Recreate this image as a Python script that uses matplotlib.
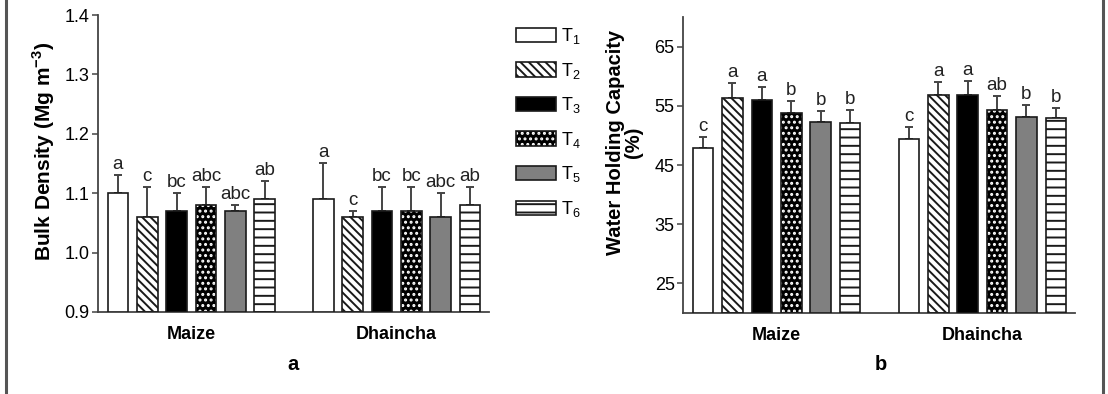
import numpy as np
import matplotlib
matplotlib.use('Agg')
import matplotlib.pyplot as plt
from matplotlib.patches import Patch
from matplotlib.lines import Line2D

plt.rcParams['font.family'] = 'Liberation Sans'
plt.rcParams['mathtext.fontset'] = 'custom'
plt.rcParams['mathtext.rm'] = 'Liberation Sans'
plt.rcParams['mathtext.bf'] = 'Liberation Sans:bold'
plt.rcParams['hatch.linewidth'] = 1.4

treatments = ['T$_1$', 'T$_2$', 'T$_3$', 'T$_4$', 'T$_5$', 'T$_6$']
crops = ['Maize', 'Dhaincha']

# bulk density (Mg m-3)
bd_maize = [1.10, 1.06, 1.07, 1.08, 1.07, 1.09]
bd_maize_err = [0.03, 0.05, 0.03, 0.03, 0.01, 0.03]
bd_dhaincha = [1.09, 1.06, 1.07, 1.07, 1.06, 1.08]
bd_dhaincha_err = [0.06, 0.01, 0.04, 0.04, 0.04, 0.03]
bd_maize_letters = ['a', 'c', 'bc', 'abc', 'abc', 'ab']
bd_dhaincha_letters = ['a', 'c', 'bc', 'bc', 'abc', 'ab']

# water holding capacity (%)
whc_maize = [47.9, 56.4, 55.9, 53.8, 52.3, 52.1]
whc_maize_err = [1.8, 2.4, 2.2, 2.0, 1.8, 2.2]
whc_dhaincha = [49.4, 56.8, 56.9, 54.3, 53.1, 52.9]
whc_dhaincha_err = [2.0, 2.2, 2.3, 2.3, 2.0, 1.7]
whc_maize_letters = ['c', 'a', 'a', 'b', 'b', 'b']
whc_dhaincha_letters = ['c', 'a', 'a', 'ab', 'b', 'b']

EDGE = '#1a1a1a'
AXC = '#444444'
# face, hatch, hatch colour for T1..T6
styles = [
    ('white', None, EDGE),
    ('white', '\\\\\\\\', EDGE),
    ('black', None, EDGE),
    ('black', '...', 'white'),
    ('#808080', None, EDGE),
    ('white', '--', EDGE),
]


def draw_panel(ax, groups, errs, letters, ylim, yticks, ylabel, ylabel_size):
    width = 0.7
    for g, (vals, err, lets) in enumerate(zip(groups, errs, letters)):
        x = np.arange(len(vals)) + g * 7
        for i in range(len(vals)):
            face, hatch, hcol = styles[i]
            base = ylim[0]
            if hatch is not None:
                ax.bar(x[i], vals[i] - base, width, bottom=base, color=face,
                       edgecolor=hcol, hatch=hatch, linewidth=0, zorder=2)
                ax.bar(x[i], vals[i] - base, width, bottom=base, fill=False,
                       edgecolor=EDGE, linewidth=1.2, zorder=3)
            else:
                ax.bar(x[i], vals[i] - base, width, bottom=base, color=face,
                       edgecolor=EDGE, linewidth=1.2, zorder=3)
        ax.errorbar(x, vals, yerr=[np.zeros(len(vals)), err], fmt='none',
                    ecolor=AXC, elinewidth=1.4, capsize=3.2, capthick=1.4, zorder=1)
        for xi, v, e, t in zip(x, vals, err, lets):
            ax.annotate(t, (xi, v + e), xytext=(0, 1.5), textcoords='offset points',
                        ha='center', va='bottom', fontsize=13.5, color='#222')
    ax.set_ylim(*ylim)
    ax.set_xlim(-0.68, 12.65)
    ax.set_yticks(yticks)
    ax.set_xticks([2.5, 9.5])
    ax.set_xticklabels(crops, fontweight='bold', fontsize=13)
    ax.tick_params(axis='x', length=0, pad=10)
    ax.tick_params(axis='y', length=4, width=1.1, color=AXC, labelsize=13, pad=2)
    for s in ['top', 'right']:
        ax.spines[s].set_visible(False)
    for s in ['left', 'bottom']:
        ax.spines[s].set_color(AXC)
        ax.spines[s].set_linewidth(1.3)
    ax.set_ylabel(ylabel, fontweight='bold', fontsize=ylabel_size, linespacing=0.95)


fig = plt.figure(figsize=(11.08, 3.94), dpi=100)
ax1 = fig.add_axes([98 / 1108, 82 / 394, 391 / 1108, 297 / 394])
ax2 = fig.add_axes([683 / 1108, 81 / 394, 392 / 1108, 296 / 394])

draw_panel(ax1, [bd_maize, bd_dhaincha], [bd_maize_err, bd_dhaincha_err],
           [bd_maize_letters, bd_dhaincha_letters], (0.9, 1.4),
           [0.9, 1.0, 1.1, 1.2, 1.3, 1.4], r'Bulk Density (Mg m$^{\mathbf{-3}}$)', 15)
ax1.set_yticklabels(['0.9', '1.0', '1.1', '1.2', '1.3', '1.4'])
ax1.yaxis.set_label_coords(-0.104, 0.54)

draw_panel(ax2, [whc_maize, whc_dhaincha], [whc_maize_err, whc_dhaincha_err],
           [whc_maize_letters, whc_dhaincha_letters], (20, 70),
           [25, 35, 45, 55, 65], 'Water Holding Capacity\n(%)', 14.5)
ax2.yaxis.set_label_coords(-0.102, 0.576)

# legend
handles = []
for face, hatch, hcol in styles:
    if hatch is not None:
        handles.append((Patch(facecolor=face, edgecolor=hcol, hatch=hatch, linewidth=0),
                        Patch(fill=False, edgecolor=EDGE, linewidth=1.2)))
    else:
        handles.append(Patch(facecolor=face, edgecolor=EDGE, linewidth=1.2))
fig.legend(handles, treatments, loc='upper left', bbox_to_anchor=(516 / 1108, 1 - 26 / 394),
           frameon=False, fontsize=13, handlelength=2.2, handleheight=0.85,
           handletextpad=0.3, labelspacing=0.81, borderpad=0, borderaxespad=0)

fig.text(293 / 1108, 1 - 365 / 394, 'a', fontsize=14.5, fontweight='bold', ha='center', va='center')
fig.text(881 / 1108, 1 - 365 / 394, 'b', fontsize=14.5, fontweight='bold', ha='center', va='center')

# outer frame lines
for xf in [5.5 / 1108, 1103 / 1108]:
    fig.add_artist(Line2D([xf, xf], [0, 1], transform=fig.transFigure, color='#555555', lw=2.2))

fig.savefig('out.png', dpi=100)
